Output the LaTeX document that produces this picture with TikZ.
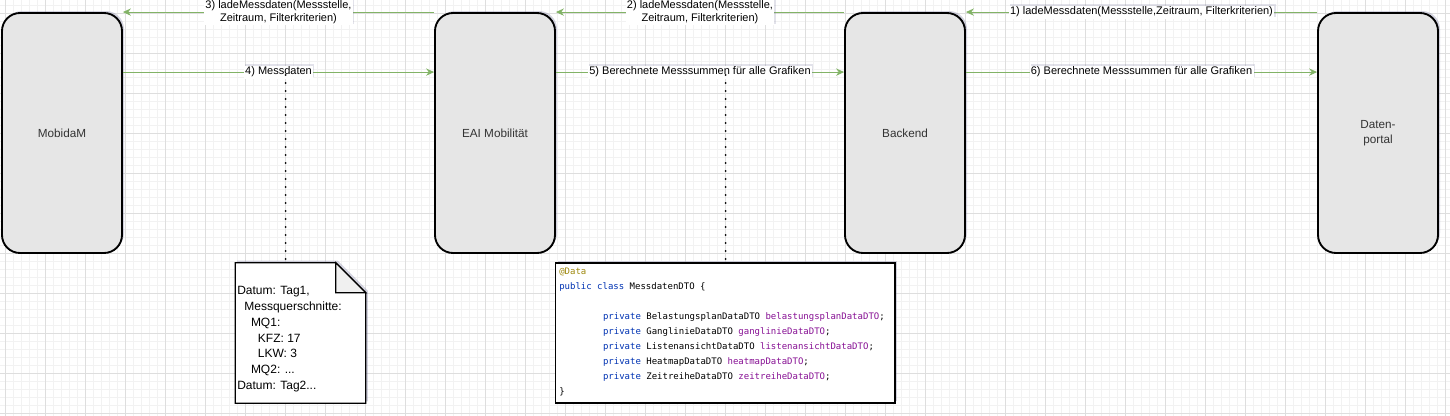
\documentclass[tikz,border=0pt]{standalone}
\usepackage{fontspec}
\setmainfont{Liberation Sans}
\newfontfamily\codefont{DejaVu Sans Mono}
\usetikzlibrary{arrows.meta,shadows}
\definecolor{boxfill}{RGB}{230,230,230}
\definecolor{msggreen}{RGB}{130,179,102}
\definecolor{gridminor}{RGB}{242,242,242}
\definecolor{gridmajor}{RGB}{222,222,222}
\definecolor{kwblue}{RGB}{0,51,179}
\definecolor{annogold}{RGB}{158,136,13}
\definecolor{fieldpurple}{RGB}{135,16,148}
\definecolor{shadowblue}{RGB}{110,110,150}
\definecolor{foldgray}{RGB}{240,240,240}

\begin{document}
\begin{tikzpicture}[x=0.75pt,y=0.75pt,yscale=-1,
  sysbox/.style={draw,line width=1.4pt,fill=boxfill,rounded corners=13.5pt,
    minimum width=90pt,minimum height=180pt,text=black!80,align=center,
    font=\fontsize{8.8}{11.25}\selectfont,
    drop shadow={shadow xshift=1.5pt,shadow yshift=1.5pt,opacity=0.3,fill=shadowblue}},
  msg/.style={draw=msggreen,line width=0.75pt,-{Stealth[length=6pt,width=5.5pt,inset=2pt]}},
  msglbl/.style={fill=white,inner sep=1pt,align=center,text=black,
    font=\fontsize{8.25}{10}\selectfont,
    drop shadow={shadow xshift=1pt,shadow yshift=1pt,opacity=0.2,fill=shadowblue}},
  dotline/.style={line width=1.5pt,line cap=round,dash pattern=on 0pt off 6pt},
  paper/.style={draw,line width=0.9pt,fill=white,
    drop shadow={shadow xshift=1.5pt,shadow yshift=1.5pt,opacity=0.3,fill=shadowblue}},
  notetxt/.style={inner sep=0pt,align=left,font=\fontsize{9}{11.85}\selectfont},
  codetxt/.style={inner sep=0pt,align=left,font=\codefont\fontsize{6.75}{11.25}\selectfont}
]
\useasboundingbox (0,0) rectangle (1450,415);

%Background grid
\begin{scope}[shift={(5.5,13)}]
\draw [gridminor,line width=0.4pt] (-8,-16) grid [step=8] (1448,408);
\draw [gridmajor,line width=0.6pt] (-8,-16) grid [step=40] (1448,408);
\end{scope}

%Rounded Rect: systems
\node [sysbox] (mobidam) at (62,133) {MobidaM};
\node [sysbox] (eai) at (495,133) {EAI Mobilität};
\node [sysbox] (backend) at (905,133) {Backend};
\node [sysbox] (portal) at (1378,133) {Daten-\\portal};

%Straight Lines: requests
\draw [msg] (portal.north west) -- (backend.north east)
  node [msglbl,midway] (lbl1) {1) ladeMessdaten(Messstelle,Zeitraum, Filterkriterien)};
\draw [msg] (backend.north west) -- (eai.north east)
  node [msglbl,midway] (lbl2) {2) ladeMessdaten(Messstelle,\\Zeitraum, Filterkriterien)};
\draw [msg] (eai.north west) -- (mobidam.north east)
  node [msglbl,midway] (lbl3) {3) ladeMessdaten(Messstelle,\\Zeitraum, Filterkriterien)};

%Straight Lines: responses
\draw [msg] ([yshift=45pt]mobidam.north east) -- ([yshift=45pt]eai.north west)
  node [msglbl,midway] (lbl4) {4) Messdaten};
\draw [msg] ([yshift=45pt]eai.north east) -- ([yshift=45pt]backend.north west)
  node [msglbl,midway] (lbl5) {5) Berechnete Messsummen für alle Grafiken};
\draw [msg] ([yshift=45pt]backend.north east) -- ([yshift=45pt]portal.north west)
  node [msglbl,midway] (lbl6) {6) Berechnete Messsummen für alle Grafiken};

%Shape: Note
\node [minimum width=97.5pt,minimum height=105pt,inner sep=0pt] (note) at (300.5,333) {};
\draw [paper] (note.north west) -- ([xshift=-22.5pt]note.north east)
  -- ([yshift=22.5pt]note.north east) -- (note.south east) -- (note.south west) -- cycle;
\draw [line width=0.9pt,fill=foldgray] ([xshift=-22.5pt]note.north east)
  -- ([xshift=-22.5pt,yshift=22.5pt]note.north east) -- ([yshift=22.5pt]note.north east) -- cycle;
% Text Node
\node [notetxt,anchor=north west] (notetext) at (237,286.2)
  {Datum: Tag1,\\
   \hspace*{5.3pt}Messquerschnitte:\\
   \hspace*{10.3pt}MQ1:\\
   \hspace*{15.5pt}KFZ: 17\\
   \hspace*{15.5pt}LKW: 3\\
   \hspace*{10.3pt}MQ2: ...\\
   Datum: Tag2...};

%Shape: Code box
\node [draw,line width=0.9pt,fill=white,minimum width=254.6pt,minimum height=105pt,inner sep=0pt,
  drop shadow={shadow xshift=1.5pt,shadow yshift=1.5pt,opacity=0.3,fill=shadowblue}] (dto) at (725.3,333) {};
% Text Node
\node [codetxt,anchor=north west] (dtotext) at (559,267.5)
  {\textcolor{annogold}{@Data}\\
   \textcolor{kwblue}{public class} MessdatenDTO \{\\
   \mbox{}\\
   \hspace*{32.8pt}\textcolor{kwblue}{private} BelastungsplanDataDTO \textcolor{fieldpurple}{belastungsplanDataDTO};\\
   \hspace*{32.8pt}\textcolor{kwblue}{private} GanglinieDataDTO \textcolor{fieldpurple}{ganglinieDataDTO};\\
   \hspace*{32.8pt}\textcolor{kwblue}{private} ListenansichtDataDTO \textcolor{fieldpurple}{listenansichtDataDTO};\\
   \hspace*{32.8pt}\textcolor{kwblue}{private} HeatmapDataDTO \textcolor{fieldpurple}{heatmapDataDTO};\\
   \hspace*{32.8pt}\textcolor{kwblue}{private} ZeitreiheDataDTO \textcolor{fieldpurple}{zeitreiheDataDTO};\\
   \}};

%Dotted Lines: attachments
\coordinate (att4) at (285.7,75);
\coordinate (att5) at (725.7,75);
\draw [dotline] (att4) -- (att4 |- note.north);
\draw [dotline] (att5) -- (att5 |- dto.north);

\end{tikzpicture}
\end{document}
